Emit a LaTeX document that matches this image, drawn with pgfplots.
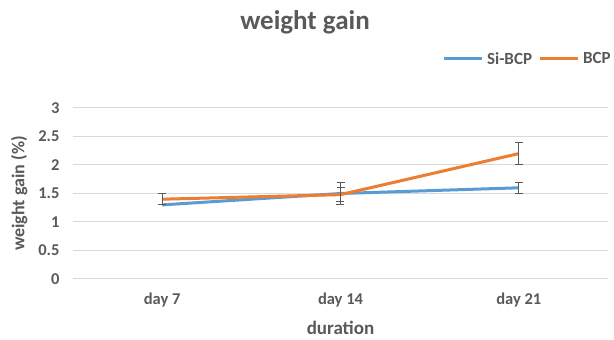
\documentclass[border=0pt]{standalone}
\usepackage{pgfplots}
\pgfplotsset{compat=1.18}
\usepackage{fontspec}
\setmainfont{Carlito}
\definecolor{sblue}{HTML}{5B9BD5}
\definecolor{sorange}{HTML}{ED7D31}
\definecolor{txt}{HTML}{595959}
\definecolor{grid}{HTML}{D9D9D9}
\definecolor{err}{HTML}{595959}
\begin{document}
\begin{tikzpicture}[x=1pt,y=1pt]
\path (0,0) rectangle (614,340);
\node[font=\fontsize{27}{32}\selectfont\bfseries, text=txt] at (305,318) {weight gain};
\begin{axis}[
  at={(73pt,61pt)}, anchor=south west,
  scale only axis, width=535pt, height=171pt,
  xmin=-0.5, xmax=2.5, ymin=0, ymax=3,
  xtick={0,1,2}, xticklabels={day 7,day 14,day 21},
  ytick={0,0.5,1,1.5,2,2.5,3},
  yticklabels={0,0.5,1,1.5,2,2.5,3},
  axis line style={draw=none},
  axis x line*=bottom, axis y line*=left,
  ymajorgrids, grid style={draw=grid, line width=1pt},
  major tick length=0pt,
  tick label style={font=\fontsize{16.5}{18}\selectfont\bfseries, text=txt},
  yticklabel style={xshift=-10pt},
  xticklabel style={yshift=-10pt},
  xlabel={duration}, ylabel={weight gain (\%)},
  xlabel style={font=\fontsize{19}{22}\selectfont\bfseries, text=txt, yshift=-8pt},
  ylabel style={font=\fontsize{18}{22}\selectfont\bfseries, text=txt, yshift=4pt},
  legend columns=2,
  legend style={at={(1.009,1.287)}, anchor=east, draw=none, fill=none,
    font=\fontsize{17}{19}\selectfont\bfseries, text=txt, inner sep=0pt,
    /tikz/every odd column/.append style={column sep=2pt},
    /tikz/every even column/.append style={column sep=4pt}},
  legend image code/.code={\draw[#1, line width=3pt] (0pt,0pt) -- (38pt,0pt);},
  error bars/error bar style={draw=err, line width=1pt},
  error bars/error mark options={draw=err, rotate=90, mark size=4pt, line width=1pt},
]
\addplot[sblue, line width=3pt, no marks,
  error bars/.cd, y dir=both, y explicit]
  coordinates {(0,1.3) +- (0,0) (1,1.5) +- (0,0.2) (2,1.6) +- (0,0.1)};
\addlegendentry{Si-BCP}
\addplot[sorange, line width=3pt, no marks,
  error bars/.cd, y dir=both, y explicit]
  coordinates {(0,1.4) +- (0,0.1) (1,1.48) +- (0,0.12) (2,2.2) +- (0,0.2)};
\addlegendentry{BCP}
\draw[grid, line width=1pt] (rel axis cs:0,0) -- (rel axis cs:1,0);
\end{axis}
\end{tikzpicture}
\end{document}
